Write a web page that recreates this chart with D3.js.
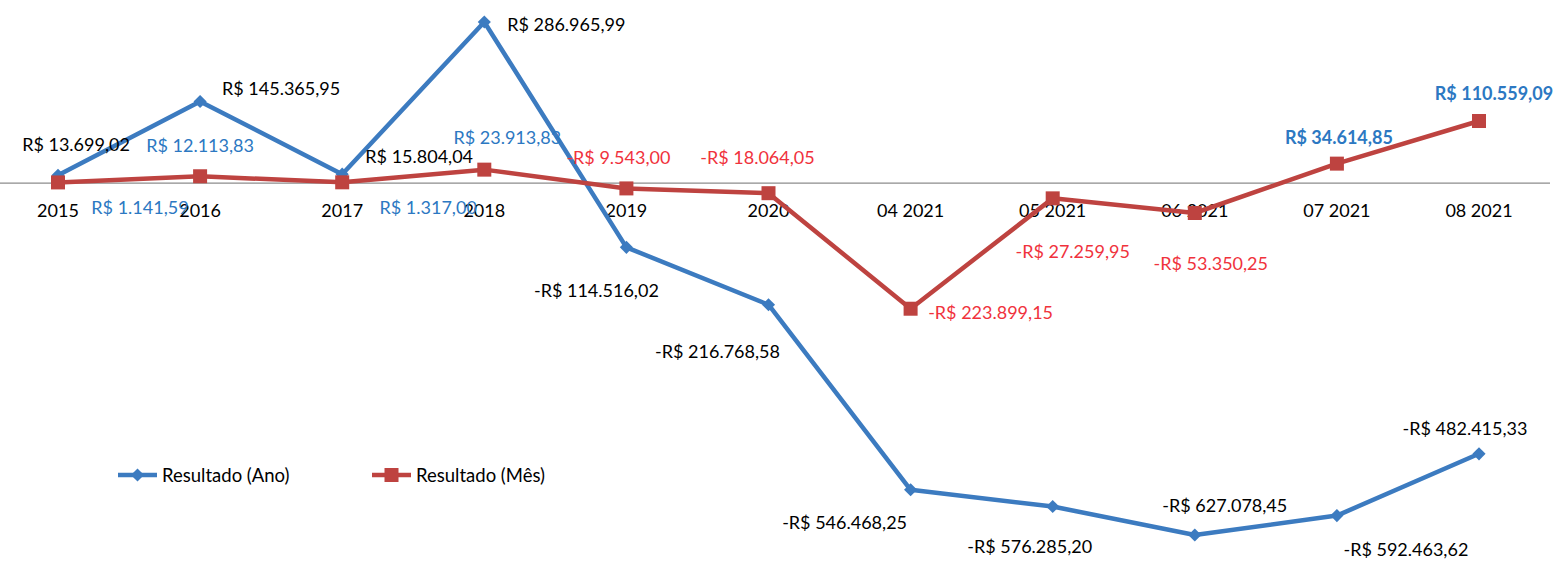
<!DOCTYPE html>
<html><head><meta charset="utf-8">
<script src="https://cdn.jsdelivr.net/npm/d3@7"></script>
<style>
body{margin:0;background:#fff;}
text{font-family:Lato, "Open Sans", sans-serif;}
</style></head>
<body><svg id="c" width="1555" height="561"></svg>
<script>
const categories = ["2015","2016","2017","2018","2019","2020","04 2021","05 2021","06 2021","07 2021","08 2021"];
const resultadoAno = [13699.02,145365.95,15804.04,286965.99,-114516.02,-216768.58,-546468.25,-576285.20,-627078.45,-592463.62,-482415.33];
const resultadoMes = [1141.59,12113.83,1317.00,23913.83,-9543.00,-18064.05,-223899.15,-27259.95,-53350.25,34614.85,110559.09];
const seriesNames = ["Resultado (Ano)","Resultado (Mês)"];

// label placement (offsets from each point, in px) - layout only
const anoLabelOffsets = [[18,-31],[81,-13],[77,-18],[82,2],[-30,43],[-51,46],[-66,32],[-23,40],[30,-30],[69,33],[-14,-26]];
const mesLabelOffsets = [[82,25],[0,-31],[86,25],[23,-33],[-8,-31],[-11,-36],[80,3],[20,53],[16,50],[2,-27],[15,-28]];

const fmt = v => {
  const s = Math.abs(v).toFixed(2).split(".");
  const int = s[0].replace(/\B(?=(\d{3})+(?!\d))/g, ".");
  return (v < 0 ? "-" : "") + "R$ " + int + "," + s[1];
};

const svg = d3.select("#c");
const x = d3.scalePoint().domain(categories).range([58,1479]);
const y = d3.scaleLinear().domain([-627078.45, 286965.99]).range([535, 22]);

const blue = "#3C7BC0", red = "#BE4340";
const blueText = "#2C78C2", redText = "#F0323C";

// zero axis
svg.append("line").attr("x1",0).attr("x2",1550).attr("y1",y(0)).attr("y2",y(0))
  .attr("stroke","#8c8c8c").attr("stroke-width",1.2);

// category labels
svg.append("g").selectAll("text").data(categories).join("text")
  .attr("x",d=>x(d)).attr("y",y(0)+34).attr("text-anchor","middle")
  .attr("font-size",18).attr("fill","#000").text(d=>d);

const line = d3.line().x((d,i)=>x(categories[i])).y(d=>y(d));

// Ano series
svg.append("path").datum(resultadoAno).attr("d",line).attr("fill","none")
  .attr("stroke",blue).attr("stroke-width",4.5).attr("stroke-linejoin","round");
svg.append("g").selectAll("path").data(resultadoAno).join("path")
  .attr("transform",(d,i)=>`translate(${x(categories[i])},${y(d)})`)
  .attr("d",d3.symbol(d3.symbolDiamond2, 110)()).attr("fill",blue);

// Mes series
svg.append("path").datum(resultadoMes).attr("d",line).attr("fill","none")
  .attr("stroke",red).attr("stroke-width",4.5).attr("stroke-linejoin","round");
svg.append("g").selectAll("rect").data(resultadoMes).join("rect")
  .attr("x",(d,i)=>x(categories[i])-7).attr("y",d=>y(d)-7)
  .attr("width",14).attr("height",14).attr("fill",red);

// labels Ano
svg.append("g").selectAll("text").data(resultadoAno).join("text")
  .attr("x",(d,i)=>x(categories[i])+anoLabelOffsets[i][0])
  .attr("y",(d,i)=>y(d)+anoLabelOffsets[i][1])
  .attr("text-anchor","middle").attr("dominant-baseline","central")
  .attr("font-size",18).attr("fill","#000").text(d=>fmt(d));

// labels Mes
svg.append("g").selectAll("text").data(resultadoMes).join("text")
  .attr("x",(d,i)=>x(categories[i])+mesLabelOffsets[i][0])
  .attr("y",(d,i)=>y(d)+mesLabelOffsets[i][1])
  .attr("text-anchor","middle").attr("dominant-baseline","central")
  .attr("font-size",18)
  .attr("font-weight",(d,i)=>i>=9?"bold":"normal")
  .attr("fill",d=>d<0?redText:blueText).text(d=>fmt(d));

// legend
const lg = svg.append("g");
const legendX = [118, 372];
seriesNames.forEach((n,i)=>{
  const g = lg.append("g").attr("transform",`translate(${legendX[i]},475)`);
  g.append("line").attr("x1",0).attr("x2",39).attr("stroke",i?red:blue).attr("stroke-width",4.5);
  if(i===0) g.append("path").attr("transform","translate(19.5,0)").attr("d",d3.symbol(d3.symbolDiamond2,110)()).attr("fill",blue);
  else g.append("rect").attr("x",12.5).attr("y",-7).attr("width",14).attr("height",14).attr("fill",red);
  g.append("text").attr("x",44).attr("y",0).attr("dominant-baseline","central")
    .attr("font-size",18.5).attr("fill","#000").text(n);
});
</script></body></html>
